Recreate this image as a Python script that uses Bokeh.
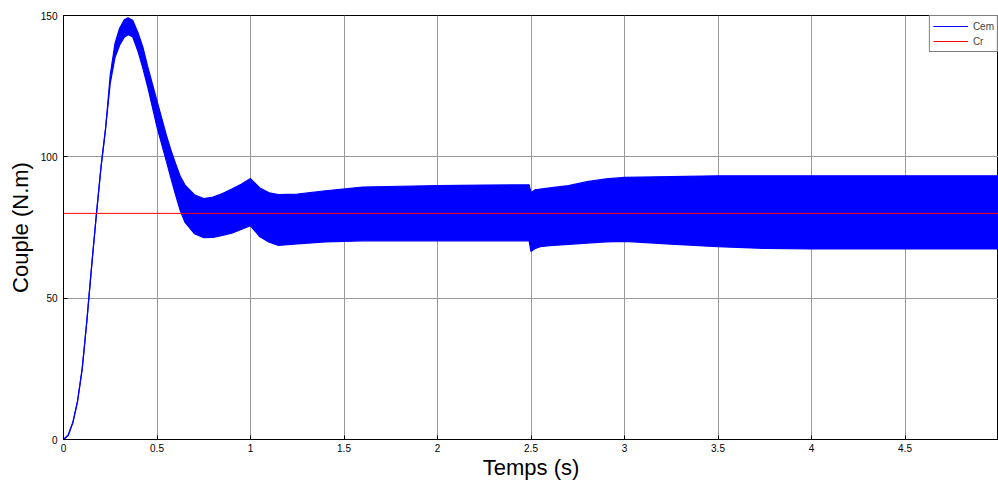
from bokeh.plotting import figure
from bokeh.models import Range1d, FixedTicker
from bokeh.embed import file_html
from bokeh.resources import INLINE

# Time grid (s) and envelope of the electromagnetic torque Cem (N.m)
t = [0, 0.025, 0.05, 0.075, 0.1, 0.125, 0.15, 0.175, 0.2, 0.225, 0.25, 0.275, 0.3,
     0.325, 0.345, 0.37, 0.4, 0.425, 0.45, 0.5, 0.55, 0.575, 0.6, 0.625, 0.65, 0.7, 0.75,
     0.8, 0.85, 0.9, 0.95, 1.0, 1.05, 1.1, 1.15, 1.25, 1.4, 1.6, 1.8, 2.0, 2.25,
     2.49, 2.5, 2.52, 2.55, 2.6, 2.7, 2.8, 2.9, 3.0, 3.25, 3.5, 3.75, 4.0, 4.5, 5.0]

cem_upper = [0, 1.5, 6, 13.5, 25, 42, 61, 79, 96, 110, 129, 140, 145.5,
             148.5, 149.2, 148.3, 143.6, 138.7, 132, 119.8, 107.7, 102.3, 97.5, 93, 90, 86.6, 85.2,
             85.8, 87, 88.6, 90.3, 92.3, 89, 87.3, 86.6, 86.8, 88, 89.3, 89.6, 89.8, 90,
             90.1, 87.3, 88.3, 88.6, 89, 89.8, 91.2, 92.2, 92.7, 93, 93.3, 93.3, 93.3, 93.3, 93.3]

cem_lower = [0, 1.5, 6, 13.5, 25, 42, 61, 79, 96, 110, 126, 135, 139.5,
             142.3, 143.2, 142.5, 137, 131.2, 124.8, 110.5, 98.5, 92.3, 86.4, 80.8, 76.8, 72.8, 71.4,
             71.5, 72.2, 73, 74.3, 75.6, 71.7, 69.8, 68.7, 69.2, 69.9, 70.3, 70.3, 70.3, 70.3,
             70.3, 66.5, 67.5, 68.2, 68.6, 69, 69.5, 69.9, 70.1, 69.1, 68.2, 67.6, 67.4, 67.4, 67.4]

# Load torque Cr
cr_t = [0, 5]
cr_val = [80, 80]

x_ticks = [0, 0.5, 1, 1.5, 2, 2.5, 3, 3.5, 4, 4.5]
y_ticks = [0, 50, 100, 150]

FONT = "Liberation Sans"

p = figure(width=998, height=483, output_backend="svg", toolbar_location=None,
           x_range=Range1d(0, 5), y_range=Range1d(0, 150),
           min_border_left=63, min_border_right=0, min_border_top=15, min_border_bottom=44)

p.background_fill_color = "white"
p.border_fill_color = "white"
p.outline_line_color = "black"
p.outline_line_width = 1

# Cem band
p.varea(x=t, y1=cem_lower, y2=cem_upper, fill_color="#0000FF", fill_alpha=1.0)
p.line(t, cem_upper, line_color="#0000FF", line_width=1.2, legend_label="Cem")
p.line(t, cem_lower, line_color="#0000FF", line_width=1.2)

# Cr
p.line(cr_t, cr_val, line_color="#FF0000", line_width=1, legend_label="Cr")

# Axes
p.xaxis.ticker = FixedTicker(ticks=x_ticks)
p.yaxis.ticker = FixedTicker(ticks=y_ticks)
for ax in (p.xaxis[0], p.yaxis[0]):
    ax.major_tick_in = 4
    ax.major_tick_out = 0
    ax.minor_tick_line_color = None
    ax.axis_line_color = "black"
    ax.major_tick_line_color = "black"
    ax.major_label_text_font = FONT
    ax.major_label_text_font_size = "10px"
    ax.major_label_text_color = "black"
    ax.axis_label_text_font = FONT
    ax.axis_label_text_font_size = "22px"
    ax.axis_label_text_font_style = "normal"
    ax.axis_label_text_color = "black"

p.xaxis.axis_label = "Temps (s)"
p.yaxis.axis_label = "Couple (N.m)"
p.xaxis.major_label_standoff = 4
p.yaxis.major_label_standoff = 6
p.xaxis.axis_label_standoff = 0
p.yaxis.axis_label_standoff = 5

p.grid.grid_line_color = "#9a9a9a"
p.grid.grid_line_width = 1

# Legend
lg = p.legend[0]
lg.location = "top_right"
lg.margin = 0
lg.padding = 3
lg.spacing = 1
lg.border_line_color = "black"
lg.border_line_width = 1
lg.background_fill_alpha = 1
lg.label_text_font = FONT
lg.label_text_font_size = "10px"
lg.glyph_width = 35
lg.glyph_height = 14
lg.label_height = 14
lg.label_standoff = 5

open("out.html", "w").write(file_html(p, INLINE))
